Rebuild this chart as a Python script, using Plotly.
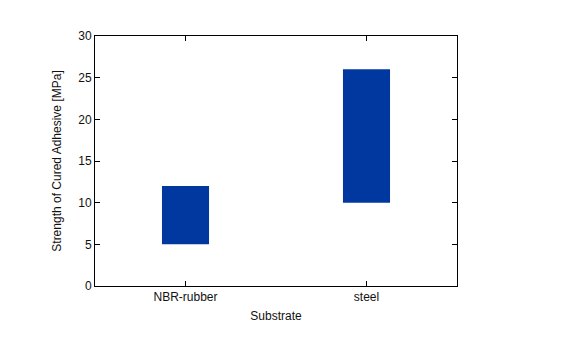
import plotly.graph_objects as go

substrates = ["NBR-rubber", "steel"]
strength_low = [5, 10]
strength_high = [12, 26]
y_ticks = [0, 5, 10, 15, 20, 25, 30]

fig = go.Figure()
fig.add_trace(go.Bar(
    x=substrates,
    y=[h - l for h, l in zip(strength_high, strength_low)],
    base=strength_low,
    width=0.26,
    marker=dict(color="#0038A0", line=dict(width=0)),
    showlegend=False,
))

axis_common = dict(
    showline=True, linecolor="black", linewidth=1, mirror="ticks",
    ticks="inside", ticklen=5, tickcolor="black", showgrid=False, zeroline=False,
    tickfont=dict(family="Liberation Sans, Arial", size=12, color="#111"),
)
fig.update_xaxes(range=[-0.5, 1.5], title=dict(text="Substrate", font=dict(family="Liberation Sans, Arial", size=12, color="#111"), standoff=8), **axis_common)
fig.update_yaxes(range=[0, 30], tickvals=y_ticks, title=dict(text="Strength of Cured Adhesive [MPa]", font=dict(family="Liberation Sans, Arial", size=12, color="#111"), standoff=14), **axis_common)

fig.update_layout(
    width=569, height=338,
    margin=dict(l=95, r=112, t=36, b=52),
    plot_bgcolor="white", paper_bgcolor="white",
)
fig.write_html("out.html")
